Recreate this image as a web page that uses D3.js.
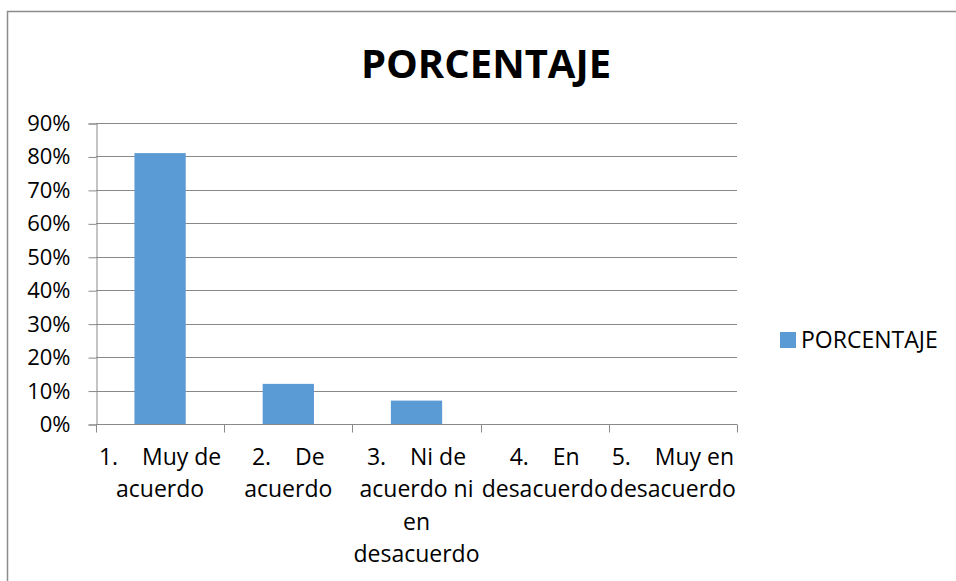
<!DOCTYPE html>
<html>
<head>
<meta charset="utf-8">
<script src="https://cdn.jsdelivr.net/npm/d3@7"></script>
<style>
  body { margin: 0; background: #fff; }
  svg { display: block; font-family: "Open Sans", sans-serif; }
  .grid line { stroke: #898989; stroke-width: 1; }
  .axis path, .axis line { stroke: #898989; }
  .axis text { fill: #000; font-size: 22px; font-family: "Open Sans", sans-serif; }
  .axis text.cat { font-size: 23px; }
</style>
</head>
<body>
<svg id="chart" width="956" height="581"></svg>
<script>
// chart data
var categories = ["1. Muy de acuerdo", "2. De acuerdo", "3. Ni de acuerdo ni en desacuerdo", "4. En desacuerdo", "5. Muy en desacuerdo"];
var categoryLines = [
  ["1.    Muy de", "acuerdo"],
  ["2.    De", "acuerdo"],
  ["3.    Ni de", "acuerdo ni", "en", "desacuerdo"],
  ["4.    En", "desacuerdo"],
  ["5.    Muy en", "desacuerdo"]
];
var porcentaje = [0.81, 0.12, 0.07, 0, 0];
var yTicks = [0, 0.1, 0.2, 0.3, 0.4, 0.5, 0.6, 0.7, 0.8, 0.9];
var seriesName = "PORCENTAJE";

var width = 956, height = 581;
var plot = { left: 96, right: 737, top: 123, bottom: 424 };

var svg = d3.select("#chart");

// outer chart border (bottom/right run off the picture)
svg.append("rect")
  .attr("x", 7.5).attr("y", 11.5)
  .attr("width", width).attr("height", height)
  .attr("fill", "none")
  .attr("stroke", "#8c8c8c")
  .attr("stroke-width", 1.5);

var x = d3.scaleBand()
  .domain(categories)
  .range([plot.left, plot.right]);

var xBar = d3.scaleBand()
  .domain(categories)
  .range([plot.left, plot.right])
  .paddingInner(0.6)
  .paddingOuter(0.3);

var y = d3.scaleLinear()
  .domain([0, 0.9])
  .range([plot.bottom, plot.top]);

// gridlines
svg.append("g")
  .attr("class", "grid")
  .selectAll("line")
  .data(yTicks.slice(1))
  .enter().append("line")
  .attr("x1", plot.left).attr("x2", plot.right)
  .attr("y1", function(d) { return Math.round(y(d)) + 0.5; })
  .attr("y2", function(d) { return Math.round(y(d)) + 0.5; });

// y axis
svg.append("g")
  .attr("class", "axis")
  .attr("transform", "translate(" + (plot.left + 0.5) + ",0.5)")
  .call(d3.axisLeft(y).tickValues(yTicks).tickFormat(d3.format(".0%")).tickSizeOuter(0).tickSize(8).tickPadding(18));

// bars
svg.append("g")
  .selectAll("rect")
  .data(porcentaje)
  .enter().append("rect")
  .attr("x", function(d, i) { return xBar(categories[i]); })
  .attr("width", xBar.bandwidth())
  .attr("y", function(d) { return y(d); })
  .attr("height", function(d) { return y(0) - y(d); })
  .attr("fill", "#5b9bd5");

// x axis with ticks at category boundaries
var xAxis = svg.append("g")
  .attr("class", "axis")
  .attr("transform", "translate(0," + (plot.bottom + 0.5) + ")");
xAxis.append("line")
  .attr("x1", plot.left).attr("x2", plot.right);
xAxis.selectAll(".tick")
  .data(categories.concat([null]))
  .enter().append("line")
  .attr("x1", function(d, i) { return Math.round(plot.left + i * x.step()) + 0.5; })
  .attr("x2", function(d, i) { return Math.round(plot.left + i * x.step()) + 0.5; })
  .attr("y1", 0).attr("y2", 8);

var labels = xAxis.selectAll("text.cat")
  .data(categories)
  .enter().append("text")
  .attr("class", "cat")
  .attr("text-anchor", "middle")
  .attr("xml:space", "preserve")
  .style("white-space", "pre");
labels.each(function(d, i) {
  var t = d3.select(this);
  categoryLines[i].forEach(function(line, j) {
    t.append("tspan")
      .attr("x", x(d) + x.bandwidth() / 2)
      .attr("y", 40.5 + j * 32.3)
      .text(line);
  });
});

// title
svg.append("text")
  .attr("x", 486).attr("y", 78)
  .attr("text-anchor", "middle")
  .attr("font-size", 40)
  .attr("font-weight", "bold")
  .text(seriesName);

// legend
var legend = svg.append("g").attr("transform", "translate(780,332)");
legend.append("rect")
  .attr("width", 16).attr("height", 16)
  .attr("fill", "#5b9bd5");
legend.append("text")
  .attr("x", 21).attr("y", 16)
  .attr("font-size", 23)
  .text(seriesName);
</script>
</body>
</html>
